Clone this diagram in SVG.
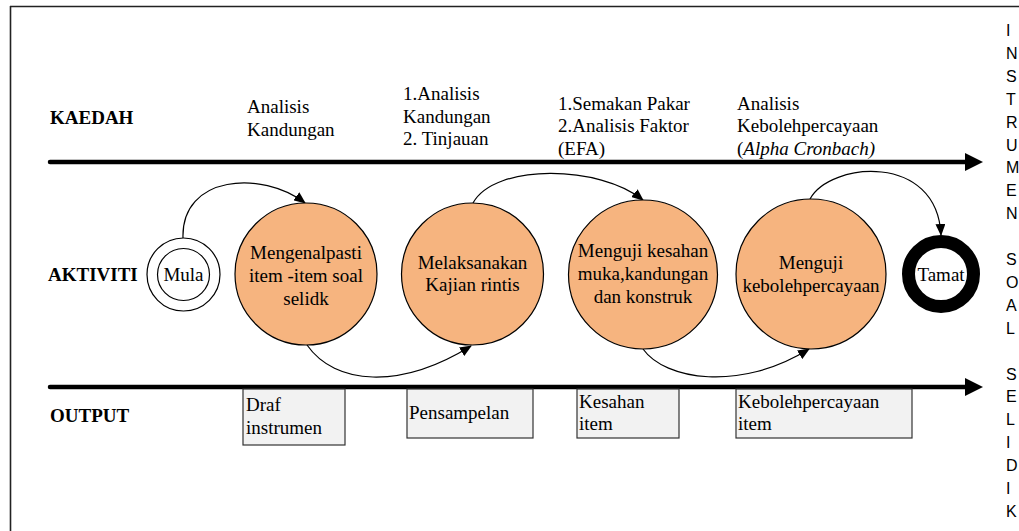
<svg xmlns="http://www.w3.org/2000/svg" width="1019" height="531" viewBox="0 0 1019 531">
<defs>
<style>
.t{font-family:"Liberation Serif","Times New Roman",serif;font-size:19px;fill:#000}
.b{font-family:"Liberation Serif","Times New Roman",serif;font-size:19px;font-weight:bold;fill:#000}
.v{font-family:"Liberation Sans",Arial,sans-serif;font-size:16px;fill:#000}
.act{fill:#F6B47F;stroke:#000;stroke-width:1.2}
.box{fill:#F2F2F2;stroke:#333;stroke-width:1.2}
.con{fill:none;stroke:#000;stroke-width:1.2;marker-end:url(#ah)}
.axis{stroke:#000;stroke-width:4.5;stroke-linecap:round}
</style>
<marker id="ah" markerWidth="12" markerHeight="10" refX="11" refY="5" orient="auto" markerUnits="userSpaceOnUse">
<path d="M0,0 L12,5 L0,10 Z" fill="#000"/>
</marker>
</defs>
<rect width="1019" height="531" fill="#fff"/>
<g id="frame" fill="none" stroke="#222" stroke-width="1.6">
<line x1="10.5" y1="6" x2="10.5" y2="531"/>
<line x1="10" y1="6.5" x2="1019" y2="6.5"/>
</g>
<g id="axes">
<line class="axis" x1="50" y1="162" x2="967" y2="162"/>
<polygon points="965,153 983,162 965,171" fill="#000"/>
<line class="axis" x1="50" y1="387" x2="967" y2="387"/>
<polygon points="965,378 983,387 965,396" fill="#000"/>
</g>
<g id="row-labels">
<text class="b" x="50" y="124">KAEDAH</text>
<text class="b" x="48" y="281">AKTIVITI</text>
<text class="b" x="50" y="422">OUTPUT</text>
</g>
<g id="kaedah">
<text class="t" x="247" y="113">Analisis</text>
<text class="t" x="247" y="135.5">Kandungan</text>
<text class="t" x="403" y="100">1.Analisis</text>
<text class="t" x="403" y="122.5">Kandungan</text>
<text class="t" x="403" y="145">2. Tinjauan</text>
<text class="t" x="558" y="109.5">1.Semakan Pakar</text>
<text class="t" x="558" y="132">2.Analisis Faktor</text>
<text class="t" x="558" y="154.5">(EFA)</text>
<text class="t" x="737" y="109.5">Analisis</text>
<text class="t" x="737" y="132">Kebolehpercayaan</text>
<text class="t" x="737" y="154.5">(<tspan font-style="italic">Alpha Cronbach)</tspan></text>
</g>
<g id="connectors">
<path class="con" d="M183,238 C181,175 262,170 305,203"/>
<path class="con" d="M307,345 C335,385 400,390 471,346"/>
<path class="con" d="M473,203 C495,163 600,165 643,200"/>
<path class="con" d="M643,349 C665,380 740,392 809,349"/>
<path class="con" d="M810,199 C830,162 937,152 941,235"/>
</g>
<g id="mula">
<circle cx="183.5" cy="274.5" r="36.5" fill="#fff" stroke="#000" stroke-width="1.2"/>
<circle cx="183.5" cy="274.5" r="26" fill="#fff" stroke="#000" stroke-width="1.2"/>
<text class="t" x="183.5" y="281" text-anchor="middle">Mula</text>
</g>
<g id="act1">
<circle class="act" cx="306" cy="274" r="71"/>
<text class="t" x="306" y="258.5" text-anchor="middle">Mengenalpasti</text>
<text class="t" x="306" y="281.5" text-anchor="middle">item -item soal</text>
<text class="t" x="306" y="304.5" text-anchor="middle">selidk</text>
</g>
<g id="act2">
<circle class="act" cx="472.5" cy="274" r="71"/>
<text class="t" x="472.5" y="268.5" text-anchor="middle">Melaksanakan</text>
<text class="t" x="472.5" y="291" text-anchor="middle">Kajian rintis</text>
</g>
<g id="act3">
<circle class="act" cx="643" cy="274.5" r="74.5"/>
<text class="t" x="643" y="257" text-anchor="middle">Menguji kesahan</text>
<text class="t" x="643" y="280" text-anchor="middle">muka,kandungan</text>
<text class="t" x="643" y="303" text-anchor="middle">dan konstruk</text>
</g>
<g id="act4">
<circle class="act" cx="811" cy="274" r="75"/>
<text class="t" x="811" y="269" text-anchor="middle">Menguji</text>
<text class="t" x="811" y="292" text-anchor="middle">kebolehpercayaan</text>
</g>
<g id="tamat">
<circle cx="941" cy="274" r="32.5" fill="#fff" stroke="#000" stroke-width="13"/>
<text class="t" x="941" y="280.5" text-anchor="middle">Tamat</text>
</g>
<g id="out1">
<rect class="box" x="243" y="389" width="102" height="56"/>
<text class="t" x="246" y="411">Draf</text>
<text class="t" x="246" y="434">instrumen</text>
</g>
<g id="out2">
<rect class="box" x="407" y="389" width="126" height="49"/>
<text class="t" x="409" y="419">Pensampelan</text>
</g>
<g id="out3">
<rect class="box" x="577" y="389" width="102" height="49"/>
<text class="t" x="579" y="408">Kesahan</text>
<text class="t" x="579" y="430">item</text>
</g>
<g id="out4">
<rect class="box" x="736" y="389" width="176" height="49"/>
<text class="t" x="738" y="408">Kebolehpercayaan</text>
<text class="t" x="738" y="430">item</text>
</g>
<g id="vertical-label">
<text class="v" x="1006" y="36">I</text>
<text class="v" x="1006" y="58.9">N</text>
<text class="v" x="1006" y="81.8">S</text>
<text class="v" x="1006" y="104.7">T</text>
<text class="v" x="1006" y="127.6">R</text>
<text class="v" x="1006" y="150.5">U</text>
<text class="v" x="1006" y="173.4">M</text>
<text class="v" x="1006" y="196.3">E</text>
<text class="v" x="1006" y="219.2">N</text>
<text class="v" x="1006" y="265">S</text>
<text class="v" x="1006" y="287.9">O</text>
<text class="v" x="1006" y="310.8">A</text>
<text class="v" x="1006" y="333.7">L</text>
<text class="v" x="1006" y="379.5">S</text>
<text class="v" x="1006" y="402.4">E</text>
<text class="v" x="1006" y="425.3">L</text>
<text class="v" x="1006" y="448.2">I</text>
<text class="v" x="1006" y="471.1">D</text>
<text class="v" x="1006" y="494">I</text>
<text class="v" x="1006" y="516.9">K</text>
</g>
</svg>
